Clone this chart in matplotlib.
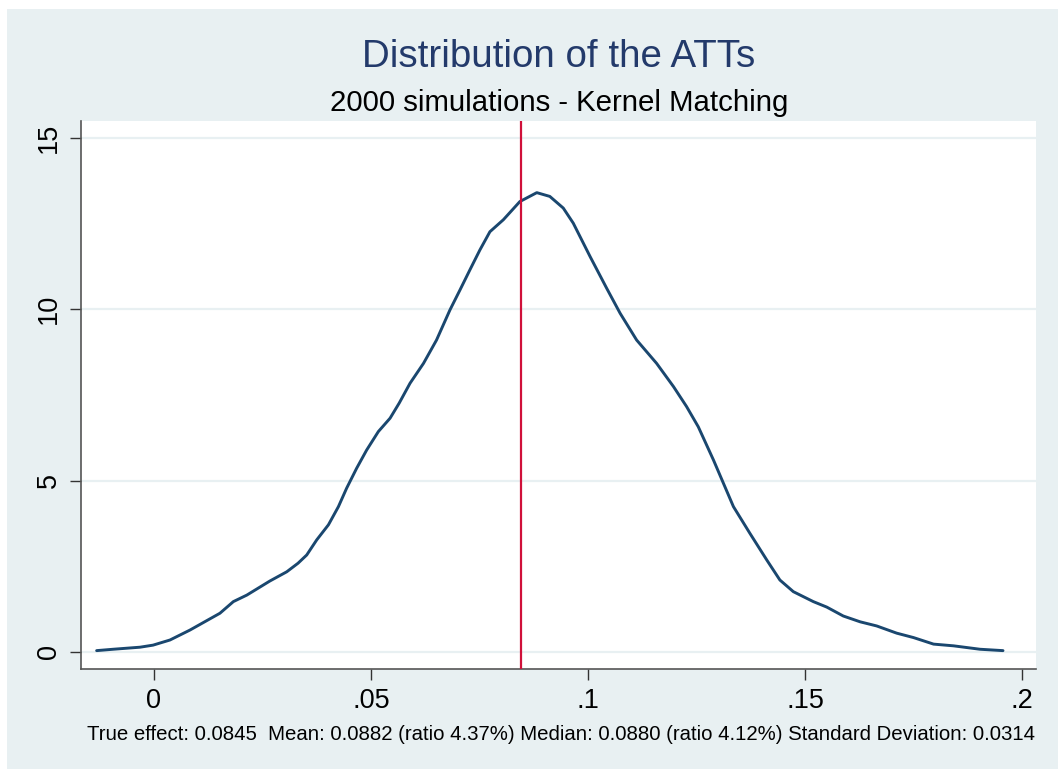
import matplotlib.pyplot as plt
from matplotlib.patches import Rectangle

plt.rcParams["font.family"] = ["Liberation Sans", "DejaVu Sans"]

# Kernel density of the simulated ATT estimates
att = [-0.0132, -0.0094, -0.0032, -0.0002, 0.0037, 0.0083, 0.0121, 0.0152,
       0.0183, 0.0214, 0.0267, 0.0306, 0.0332, 0.0352, 0.0375, 0.0402,
       0.0425, 0.0444, 0.0467, 0.0490, 0.0517, 0.0544, 0.0565, 0.0590,
       0.0621, 0.0651, 0.0682, 0.0705, 0.0728, 0.0751, 0.0774, 0.0805,
       0.0843, 0.0882, 0.0912, 0.0943, 0.0966, 0.1005, 0.1043, 0.1074,
       0.1112, 0.1158, 0.1197, 0.1227, 0.1254, 0.1289, 0.1335, 0.1373,
       0.1412, 0.1442, 0.1473, 0.1519, 0.1550, 0.1588, 0.1627, 0.1665,
       0.1711, 0.1750, 0.1796, 0.1842, 0.1903, 0.1956]
density = [0.04, 0.08, 0.14, 0.20, 0.35, 0.64, 0.91, 1.13,
           1.47, 1.66, 2.07, 2.34, 2.59, 2.83, 3.27, 3.71,
           4.24, 4.78, 5.36, 5.89, 6.43, 6.82, 7.26, 7.84,
           8.42, 9.10, 9.98, 10.56, 11.15, 11.73, 12.26, 12.61,
           13.14, 13.40, 13.29, 12.95, 12.51, 11.53, 10.61, 9.88,
           9.10, 8.42, 7.74, 7.16, 6.57, 5.60, 4.24, 3.46,
           2.68, 2.10, 1.76, 1.47, 1.31, 1.05, 0.88, 0.76,
           0.55, 0.42, 0.23, 0.18, 0.08, 0.04]

true_effect = 0.0845
xticks = [0, 0.05, 0.1, 0.15, 0.2]
xtick_labels = ["0", ".05", ".1", ".15", ".2"]
yticks = [0, 5, 10, 15]
ytick_labels = ["0", "5", "10", "15"]

title = "Distribution of the ATTs"
subtitle = "2000 simulations - Kernel Matching"
note = ("True effect: 0.0845  Mean: 0.0882 (ratio 4.37%) Median: 0.0880 "
        "(ratio 4.12%) Standard Deviation: 0.0314")

bg = "#E8F0F2"
navy = "#1A476F"

fig = plt.figure(figsize=(10.58, 7.69), dpi=100, facecolor="white")
fig.patches.append(Rectangle((7 / 1058, 0), 1, 1 - 9 / 769,
                             transform=fig.transFigure, facecolor=bg,
                             edgecolor="none", zorder=-1))

ax = fig.add_axes([81 / 1058, 100 / 769, 955 / 1058, 548 / 769])
ax.set_facecolor("white")

ax.plot(att, density, color=navy, lw=2.1, solid_joinstyle="round",
        solid_capstyle="round", zorder=3)
ax.axvline(true_effect, color="#D0103A", lw=1.6, zorder=4)

ax.set_xlim(-0.0168, 0.2032)
ax.set_ylim(-0.496, 15.49)
ax.set_xticks(xticks, xtick_labels)
ax.set_yticks(yticks, ytick_labels)
ax.grid(axis="y", color=bg, lw=1.6, zorder=1)
ax.set_axisbelow(True)

for side in ["top", "right"]:
    ax.spines[side].set_visible(False)
for side in ["left", "bottom"]:
    ax.spines[side].set_color("#555555")
    ax.spines[side].set_linewidth(1.2)

ax.tick_params(axis="both", direction="out", length=8, width=1,
               color="#333333", labelsize=19.5, labelcolor="black")
ax.tick_params(axis="x", pad=6)
ax.tick_params(axis="y", pad=6)
for lbl in ax.get_yticklabels():
    lbl.set_rotation(90)
    lbl.set_va("center")

fig.text(559 / 1058, 1 - 57 / 769, title, ha="center", va="center",
         fontsize=27.7, color="#233A6B")
fig.text(559 / 1058, 1 - 103 / 769, subtitle, ha="center", va="center",
         fontsize=21.2, color="black")
fig.text(87 / 1058, 1 - 734 / 769, note, ha="left", va="center",
         fontsize=14.7, color="black")

fig.savefig("out.png", dpi=100, facecolor=fig.get_facecolor())
